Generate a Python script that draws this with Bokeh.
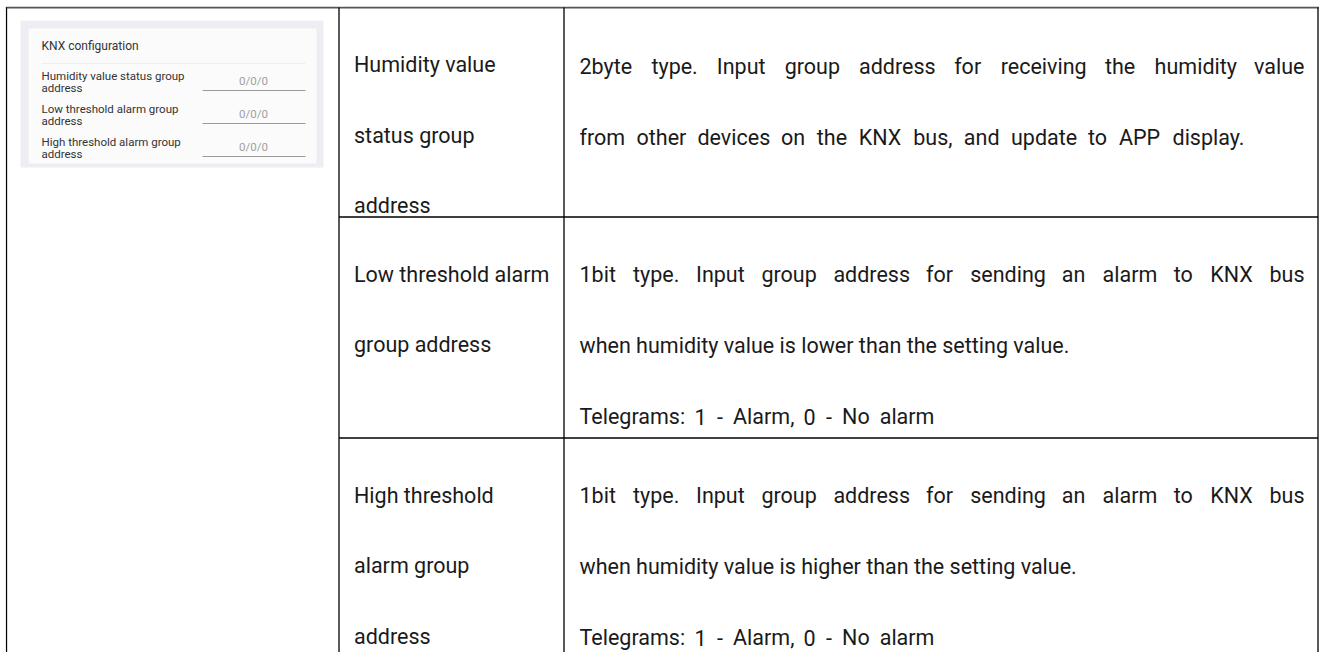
from bokeh.plotting import figure
from bokeh.models import Range1d, ColumnDataSource
from bokeh.embed import file_html
from bokeh.resources import INLINE
from bokeh.core.properties import value

# ---------------- data (texts) ----------------
panel_title = "KNX configuration"
panel_labels = [
    ["Humidity value status group", "address"],
    ["Low threshold alarm group", "address"],
    ["High threshold alarm group", "address"],
]
panel_values = ["0/0/0", "0/0/0", "0/0/0"]

param_lines = [
    ["Humidity value", "status group", "address"],
    ["Low threshold alarm", "group address"],
    ["High threshold", "alarm group", "address"],
]

desc_paragraphs = [
    [["2byte type. Input group address for receiving the humidity value",
      "from other devices on the KNX bus, and update to APP display."]],
    [["1bit type. Input group address for sending an alarm to KNX bus",
      "when humidity value is lower than the setting value."],
     ["Telegrams: 1 - Alarm, 0 - No alarm"]],
    [["1bit type. Input group address for sending an alarm to KNX bus",
      "when humidity value is higher than the setting value."],
     ["Telegrams: 1 - Alarm, 0 - No alarm"]],
]

# ---------------- layout ----------------
PX0, PX1, PY0, PY1 = 5, 1319, 6, 652
FONT = "Roboto"
FS = 21.5
col_x = [6, 338.5, 563.5, 1317.5]
row_y = [7, 216.5, 437.5]
LEFT_PAD = 15
RIGHT_TEXT_X0 = 579
RIGHT_TEXT_X1 = 1304
PITCH_L = 70.5
PITCH_R = 71
# extra word spacing (px) of the non-justified description lines, per row
EXTRA_SPACE = [[7.0], [0.0, 5.0], [0.0, 5.0]]
TEXT_COLOR = "#1a1a1a"

# approximate Roboto advance widths (1/2048 em) used to lay out words
RW = {' ': 507, ',': 393, '-': 552, '.': 527, ':': 485,
      'A': 1336, 'B': 1275, 'C': 1334, 'D': 1343, 'E': 1164, 'F': 1132,
      'G': 1395, 'H': 1460, 'I': 557, 'K': 1283, 'L': 1103, 'M': 1790,
      'N': 1460, 'O': 1408, 'P': 1292, 'R': 1260, 'S': 1216, 'T': 1222,
      'U': 1327, 'V': 1303, 'W': 1817, 'X': 1283, 'Y': 1229,
      'a': 1088, 'b': 1122, 'c': 1046, 'd': 1126, 'e': 1058, 'f': 694,
      'g': 1122, 'h': 1102, 'i': 486, 'j': 477, 'k': 1014, 'l': 486,
      'm': 1751, 'n': 1104, 'o': 1139, 'p': 1122, 'q': 1131, 'r': 677,
      's': 1031, 't': 654, 'u': 1102, 'v': 968, 'w': 1500, 'x': 991,
      'y': 946, 'z': 991}


def est_width(s, fs):
    return sum(RW.get(c, 1150) for c in s) / 2048.0 * fs


p = figure(width=PX1 - PX0, height=PY1 - PY0, output_backend="svg",
           toolbar_location=None, x_range=Range1d(PX0, PX1),
           y_range=Range1d(PY1, PY0), min_border=0)
p.margin = (PY0, 0, 0, PX0)
p.axis.visible = False
p.grid.visible = False
p.outline_line_color = None
p.background_fill_color = "white"
p.border_fill_color = "white"

# ---------------- settings panel (screenshot) ----------------
p.quad(left=[20], right=[323], top=[20], bottom=[167],
       fill_color="#EDEDF3", line_color=None)
p.quad(left=[28], right=[316], top=[28], bottom=[163],
       fill_color="#FBFBFC", line_color=None)
p.text(x=[41], y=[45], text=[panel_title], text_font=value(FONT),
       text_font_size="12px", text_color="#333333", text_baseline="middle")
p.segment(x0=[41], x1=[305], y0=[63], y1=[63], line_color="#EEEEEE",
          line_width=1)
ptx, pty, ptt = [], [], []
vx, vy, vt = [], [], []
ux0, ux1, uy = [], [], []
for i, (lab, val) in enumerate(zip(panel_labels, panel_values)):
    yc = 75 + 33 * i
    for j, line in enumerate(lab):
        ptx.append(41)
        pty.append(yc + 12 * j)
        ptt.append(line)
    vx.append(253)
    vy.append(yc + 5.5)
    vt.append(val)
    ux0.append(202)
    ux1.append(305)
    uy.append(yc + 15)
p.text(x=ptx, y=pty, text=ptt, text_font=value(FONT), text_font_size="11.5px",
       text_color="#333333", text_baseline="middle")
p.text(x=vx, y=vy, text=vt, text_font=value(FONT), text_font_size="11.5px",
       text_color="#A0A0A0", text_baseline="middle", text_align="center")
p.segment(x0=ux0, x1=ux1, y0=uy, y1=uy, line_color="#9A9A9A", line_width=1)

# ---------------- table grid ----------------
p.segment(x0=[PX0], x1=[PX1], y0=[row_y[0]], y1=[row_y[0]],
          line_color="#555555", line_width=2)
p.segment(x0=col_x, x1=col_x, y0=[row_y[0]] * 4, y1=[PY1 + 2] * 4,
          line_color="#000000", line_width=1.3)
p.segment(x0=[col_x[1]] * 2, x1=[col_x[3]] * 2, y0=row_y[1:], y1=row_y[1:],
          line_color="#000000", line_width=1.3)

# ---------------- table texts ----------------
lx, ly, lt = [], [], []
for r, lines in enumerate(param_lines):
    for j, line in enumerate(lines):
        lx.append(col_x[1] + LEFT_PAD)
        ly.append(row_y[r] + 57 + PITCH_L * j)
        lt.append(line)
p.text(x=lx, y=ly, text=lt, text_font=value(FONT), text_font_size=f"{FS}px",
       text_color=TEXT_COLOR, text_baseline="alphabetic")

wx, wy, wt, wa = [], [], [], []
space_w = est_width(" ", FS)
for r, paras in enumerate(desc_paragraphs):
    k = 0
    e = 0
    first_off = 59 if r == 0 else 57.5
    for para in paras:
        for j, line in enumerate(para):
            yb = row_y[r] + first_off + PITCH_R * k
            k += 1
            last = (j == len(para) - 1)
            words = line.split()
            widths = [est_width(w, FS) for w in words]
            if last or len(words) < 2:
                extra = EXTRA_SPACE[r][e]
                e += 1
                if extra == 0:
                    wx.append(RIGHT_TEXT_X0); wy.append(yb); wt.append(line); wa.append("left")
                    continue
                gap = space_w + extra
                justify = False
            else:
                gap = (RIGHT_TEXT_X1 - RIGHT_TEXT_X0 - sum(widths)) / (len(words) - 1)
                justify = True
            x = RIGHT_TEXT_X0
            for n, (w, wd) in enumerate(zip(words, widths)):
                if justify and n == len(words) - 1:
                    wx.append(RIGHT_TEXT_X1); wa.append("right")
                else:
                    wx.append(x); wa.append("left")
                wy.append(yb); wt.append(w)
                x += wd + gap
src = ColumnDataSource(dict(x=wx, y=wy, text=wt, align=wa))
p.text(x="x", y="y", text="text", text_align="align", source=src,
       text_font=value(FONT), text_font_size=f"{FS}px",
       text_color=TEXT_COLOR, text_baseline="alphabetic")

open("out.html", "w").write(file_html(p, INLINE))
